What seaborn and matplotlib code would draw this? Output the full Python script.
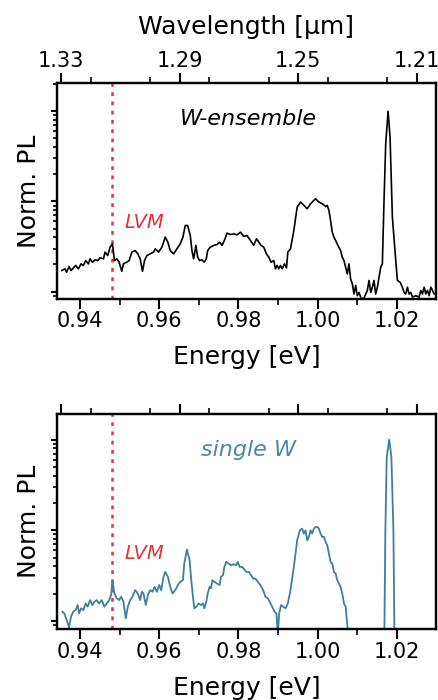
import numpy as np
import pandas as pd
import seaborn as sns
import matplotlib.pyplot as plt
from matplotlib.ticker import NullFormatter, MultipleLocator, LogLocator

# ---- data (energy in eV, normalised PL) ----
ens_energy = [0.93536, 0.93620, 0.93662, 0.93722, 0.93772, 0.93831, 0.93890, 0.93958,
              0.94025, 0.94084, 0.94143, 0.94211, 0.94253, 0.94312, 0.94380, 0.94447,
              0.94506, 0.94591, 0.94633, 0.94700, 0.94759, 0.94819, 0.94869, 0.94928,
              0.94987, 0.95055, 0.95097, 0.95181, 0.95241, 0.95308, 0.95392, 0.95460,
              0.95519, 0.95578, 0.95629, 0.95688, 0.95772, 0.95857, 0.95899, 0.95983,
              0.96068, 0.96152, 0.96219, 0.96278, 0.96363, 0.96447, 0.96532, 0.96599,
              0.96658, 0.96717, 0.96785, 0.96827, 0.96869, 0.96928, 0.96970, 0.97021,
              0.97080, 0.97139, 0.97190, 0.97224, 0.97291, 0.97376, 0.97460, 0.97527,
              0.97586, 0.97646, 0.97713, 0.97797, 0.97882, 0.97966, 0.98051, 0.98135,
              0.98219, 0.98304, 0.98388, 0.98456, 0.98515, 0.98574, 0.98641, 0.98709,
              0.98768, 0.98827, 0.98895, 0.98937, 0.98979, 0.99021, 0.99063, 0.99105,
              0.99165, 0.99215, 0.99249, 0.99316, 0.99401, 0.99485, 0.99570, 0.99654,
              0.99738, 0.99823, 0.99907, 0.99949, 0.99992, 1.00034, 1.00118, 1.00203,
              1.00245, 1.00287, 1.00329, 1.00371, 1.00414, 1.00456, 1.00515, 1.00582,
              1.00624, 1.00667, 1.00709, 1.00751, 1.00793, 1.00835, 1.00878, 1.00920,
              1.00962, 1.01004, 1.01046, 1.01105, 1.01173, 1.01257, 1.01300, 1.01342,
              1.01384, 1.01426, 1.01468, 1.01511, 1.01553, 1.01595, 1.01637, 1.01679,
              1.01722, 1.01781, 1.01831, 1.01890, 1.01975, 1.02017, 1.02084, 1.02143,
              1.02186, 1.02228, 1.02270, 1.02312, 1.02354, 1.02397, 1.02481, 1.02565,
              1.02608, 1.02650, 1.02692, 1.02734, 1.02776, 1.02819, 1.02861, 1.02903,
              1.02945]
ens_pl = [0.0171, 0.0179, 0.0164, 0.0190, 0.0171, 0.0183, 0.0195, 0.0179,
          0.0203, 0.0195, 0.0221, 0.0203, 0.0231, 0.0212, 0.0225, 0.0221,
          0.0237, 0.0231, 0.0274, 0.0251, 0.0311, 0.0339, 0.0221, 0.0231,
          0.0212, 0.0168, 0.0203, 0.0212, 0.0221, 0.0274, 0.0285, 0.0262,
          0.0231, 0.0168, 0.0221, 0.0251, 0.0262, 0.0274, 0.0298, 0.0274,
          0.0311, 0.0402, 0.0353, 0.0285, 0.0262, 0.0298, 0.0339, 0.0402,
          0.0541, 0.0541, 0.0419, 0.0285, 0.0231, 0.0325, 0.0241, 0.0221,
          0.0225, 0.0212, 0.0231, 0.0285, 0.0311, 0.0325, 0.0333, 0.0353,
          0.0325, 0.0369, 0.0445, 0.0430, 0.0437, 0.0426, 0.0456, 0.0409,
          0.0419, 0.0369, 0.0325, 0.0385, 0.0353, 0.0325, 0.0311, 0.0262,
          0.0241, 0.0212, 0.0221, 0.0179, 0.0195, 0.0179, 0.0195, 0.0179,
          0.0203, 0.0183, 0.0274, 0.0298, 0.0476, 0.0865, 0.0984, 0.0903,
          0.0829, 0.0942, 0.1026, 0.1071, 0.1026, 0.0984, 0.0942, 0.0880,
          0.0903, 0.0794, 0.0615, 0.0456, 0.0402, 0.0369, 0.0325, 0.0285,
          0.0241, 0.0221, 0.0186, 0.0157, 0.0203, 0.0138, 0.0122, 0.0094,
          0.0117, 0.0090, 0.0098, 0.0083, 0.0085, 0.0103, 0.0133, 0.0098,
          0.0112, 0.0133, 0.0094, 0.0112, 0.0144, 0.0186, 0.0203, 0.1026,
          0.437, 1.000, 0.519, 0.0670, 0.0221, 0.0133, 0.0127, 0.0112,
          0.0098, 0.0094, 0.0112, 0.0094, 0.0098, 0.0087, 0.0090, 0.0087,
          0.0103, 0.0094, 0.0112, 0.0094, 0.0103, 0.0090, 0.0112, 0.0103,
          0.0094]

single_energy = [0.93553, 0.93603, 0.93662, 0.93722, 0.93772, 0.93831, 0.93890, 0.93941,
                 0.93975, 0.94025, 0.94084, 0.94143, 0.94194, 0.94253, 0.94312, 0.94363,
                 0.94422, 0.94481, 0.94549, 0.94616, 0.94675, 0.94734, 0.94785, 0.94819,
                 0.94869, 0.94928, 0.94987, 0.95038, 0.95097, 0.95156, 0.95207, 0.95266,
                 0.95325, 0.95392, 0.95460, 0.95519, 0.95561, 0.95603, 0.95662, 0.95713,
                 0.95772, 0.95831, 0.95882, 0.95941, 0.96000, 0.96051, 0.96110, 0.96152,
                 0.96219, 0.96278, 0.96338, 0.96405, 0.96473, 0.96532, 0.96599, 0.96633,
                 0.96700, 0.96768, 0.96802, 0.96852, 0.96886, 0.96937, 0.96996, 0.97055,
                 0.97105, 0.97139, 0.97190, 0.97224, 0.97274, 0.97308, 0.97342, 0.97392,
                 0.97460, 0.97527, 0.97561, 0.97612, 0.97646, 0.97696, 0.97755, 0.97814,
                 0.97882, 0.97949, 0.97983, 0.98034, 0.98093, 0.98152, 0.98203, 0.98262,
                 0.98321, 0.98371, 0.98430, 0.98489, 0.98557, 0.98624, 0.98684, 0.98743,
                 0.98793, 0.98852, 0.98911, 0.98962, 0.98996, 0.99030, 0.99080, 0.99131,
                 0.99190, 0.99249, 0.99316, 0.99401, 0.99485, 0.99553, 0.99612, 0.99654,
                 0.99696, 0.99738, 0.99781, 0.99823, 0.99865, 0.99907, 0.99949, 0.99992,
                 1.00034, 1.00076, 1.00118, 1.00160, 1.00203, 1.00245, 1.00287, 1.00329,
                 1.00371, 1.00414, 1.00456, 1.00498, 1.00540, 1.00582, 1.00624, 1.00667,
                 1.00709, 1.00751, 1.00793, 1.01000, 1.01500, 1.01688, 1.01713, 1.01747,
                 1.01810, 1.01865, 1.01916, 1.01941, 1.02100, 1.03000]
single_pl = [0.0127, 0.0121, 0.0103, 0.0085, 0.0112, 0.0127, 0.0132, 0.0150,
             0.0121, 0.0138, 0.0132, 0.0156, 0.0144, 0.0170, 0.0150, 0.0163,
             0.0170, 0.0156, 0.0170, 0.0144, 0.0156, 0.0170, 0.0193, 0.0282,
             0.0201, 0.0178, 0.0170, 0.0185, 0.0163, 0.0107, 0.0144, 0.0170,
             0.0185, 0.0219, 0.0201, 0.0170, 0.0210, 0.0201, 0.0150, 0.0193,
             0.0219, 0.0210, 0.0238, 0.0210, 0.0249, 0.0219, 0.0307, 0.0348,
             0.0307, 0.0238, 0.0201, 0.0219, 0.0249, 0.0271, 0.0282, 0.0430,
             0.0613, 0.0468, 0.0307, 0.0185, 0.0138, 0.0144, 0.0156, 0.0150,
             0.0156, 0.0138, 0.0163, 0.0201, 0.0238, 0.0229, 0.0282, 0.0271,
             0.0259, 0.0249, 0.0307, 0.0320, 0.0395, 0.0449, 0.0430, 0.0412,
             0.0423, 0.0412, 0.0449, 0.0395, 0.0395, 0.0370, 0.0348, 0.0348,
             0.0320, 0.0294, 0.0294, 0.0271, 0.0249, 0.0219, 0.0185, 0.0178,
             0.0163, 0.0144, 0.0127, 0.0121, 0.0070, 0.0121, 0.0150, 0.0144,
             0.0138, 0.0156, 0.0219, 0.0395, 0.0776, 0.1000, 0.1043, 0.0919,
             0.1000, 0.0776, 0.0845, 0.1000, 0.0919, 0.1043, 0.1088, 0.1088,
             0.1043, 0.0919, 0.0845, 0.0845, 0.0744, 0.0684, 0.0554, 0.0449,
             0.0430, 0.0348, 0.0334, 0.0282, 0.0259, 0.0238, 0.0201, 0.0156,
             0.0144, 0.0090, 0.0060, 0.0030, 0.0030, 0.0075, 0.1000, 0.640,
             1.000, 0.640, 0.1000, 0.0075, 0.0030, 0.0030]

lvm_energy = 0.948
energy_ticks = [0.94, 0.96, 0.98, 1.00, 1.02]
wl_ticks = [1.33, 1.29, 1.25, 1.21]
wl_labels = ['1.33', '1.29', '1.25', '1.21']

ens = pd.DataFrame({'energy': ens_energy, 'pl': ens_pl})
single = pd.DataFrame({'energy': single_energy, 'pl': single_pl})

sns.set_style("ticks")
plt.rcParams['font.family'] = ['DejaVu Sans']
for key in ['text.color', 'axes.labelcolor', 'xtick.color', 'ytick.color', 'axes.edgecolor']:
    plt.rcParams[key] = 'black'

red = '#e3323c'
teal = '#3f7f9c'
lab_fs = 18
tick_fs = 15

fig = plt.figure(figsize=(4.39, 7.0), dpi=100)
ax1 = fig.add_axes([0.130, 0.573, 0.863, 0.308])
ax2 = fig.add_axes([0.130, 0.101, 0.863, 0.308])


def style_axes(ax, ylims):
    ax.set_yscale('log')
    ax.set_xlim(0.9342, 1.0299)
    ax.set_ylim(*ylims)
    ax.set_xticks(energy_ticks)
    ax.set_xticklabels([f'{t:.2f}' for t in energy_ticks])
    ax.xaxis.set_minor_locator(MultipleLocator(0.01))
    ax.yaxis.set_major_locator(LogLocator(base=10, numticks=10))
    ax.yaxis.set_minor_locator(LogLocator(base=10, subs=np.arange(2, 10), numticks=20))
    ax.yaxis.set_major_formatter(NullFormatter())
    ax.yaxis.set_minor_formatter(NullFormatter())
    ax.tick_params(axis='x', which='major', direction='out', length=7, width=1.5,
                   labelsize=tick_fs, top=False, pad=2)
    ax.tick_params(axis='x', which='minor', direction='out', length=4, width=1.2, top=False)
    ax.tick_params(axis='y', which='major', direction='out', length=4, width=1.5, right=False)
    ax.tick_params(axis='y', which='minor', direction='out', length=3, width=1.2, right=False)
    for s in ax.spines.values():
        s.set_linewidth(1.6)
        s.set_visible(True)
    ax.axvline(lvm_energy, color=red, lw=1.8, ls=(0, (1.5, 2.2)))

    top = ax.twiny()
    top.set_xlim(1.3313, 1.2036)
    top.set_xticks(wl_ticks)
    top.xaxis.set_minor_locator(MultipleLocator(0.02))
    top.tick_params(axis='x', which='major', direction='out', length=7, width=1.5,
                    labelsize=tick_fs, pad=2)
    top.tick_params(axis='x', which='minor', direction='out', length=4, width=1.2)
    for s in top.spines.values():
        s.set_linewidth(1.6)
    return top


top1 = style_axes(ax1, (0.0083, 2.04))
top1.set_xticklabels(wl_labels)
top1.set_xlabel('Wavelength [µm]', fontsize=lab_fs, labelpad=12)
top2 = style_axes(ax2, (0.0081, 1.93))
top2.set_xticklabels([])

sns.lineplot(data=ens, x='energy', y='pl', ax=ax1, color='black', lw=1.2, sort=False)
sns.lineplot(data=single, x='energy', y='pl', ax=ax2, color=teal, lw=1.3, sort=False)
for ax in (ax1, ax2):
    ax.set_xlabel('Energy [eV]', fontsize=lab_fs, labelpad=10)
    ax.set_ylabel('Norm. PL', fontsize=lab_fs, labelpad=4)

ax1.text(0.504, 0.833, 'W-ensemble', transform=ax1.transAxes, fontsize=16,
         style='italic', ha='center', va='center', color='black')
ax2.text(0.504, 0.833, 'single W', transform=ax2.transAxes, fontsize=16,
         style='italic', ha='center', va='center', color='#4a88a4')
for ax in (ax1, ax2):
    ax.text(0.178, 0.353, 'LVM', transform=ax.transAxes, fontsize=14,
            style='italic', ha='left', va='center', color=red)

fig.savefig('out.png', dpi=100)
